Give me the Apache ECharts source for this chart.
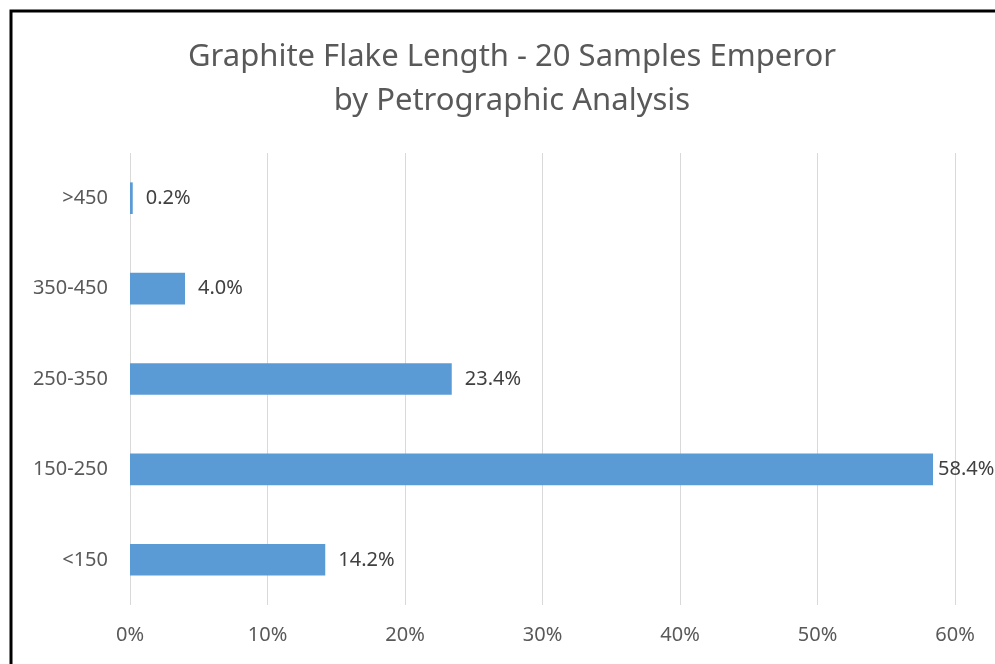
<!DOCTYPE html>
<html>
<head>
<meta charset="utf-8">
<script src="https://cdn.jsdelivr.net/npm/echarts@6/dist/echarts.min.js"></script>
<style>
html,body{margin:0;padding:0;background:#fff;}
#c{width:995px;height:664px;}
</style>
</head>
<body>
<div id="c"></div>
<script>
const categories = ['<150', '150-250', '250-350', '350-450', '>450'];
const values = [14.2, 58.4, 23.4, 4.0, 0.2];
const xTicks = [0, 10, 20, 30, 40, 50, 60];
const titleLines = ['Graphite Flake Length - 20 Samples Emperor', 'by Petrographic Analysis'];

const chart = echarts.init(document.getElementById('c'), null, {renderer: 'canvas'});
const font = '"Noto Sans", "Open Sans", sans-serif';
chart.setOption({
  animation: false,
  graphic: [{
    type: 'rect', left: 8.5, top: 8.5,
    shape: {x: 0, y: 0, width: 1000, height: 700},
    style: {fill: 'none', stroke: '#000', lineWidth: 3},
    z: 100
  }],
  title: {
    text: titleLines.join('\n'),
    left: 507, top: 30, textAlign: 'center',
    textStyle: {fontFamily: font, fontSize: 31, fontWeight: 'normal', color: '#595959', lineHeight: 44}
  },
  grid: {left: 130, right: 40, top: 153, bottom: 59, containLabel: false},
  xAxis: {
    type: 'value', min: xTicks[0], max: xTicks[xTicks.length - 1], interval: 10,
    axisLine: {show: false}, axisTick: {show: false},
    splitLine: {lineStyle: {color: '#d9d9d9', width: 1}},
    axisLabel: {formatter: '{value}%', fontFamily: font, fontSize: 20, color: '#595959', margin: 20}
  },
  yAxis: {
    type: 'category', data: categories,
    axisLine: {show: false}, axisTick: {show: false},
    axisLabel: {fontFamily: font, fontSize: 20, color: '#595959', margin: 22}
  },
  series: [{
    type: 'bar', barWidth: '35%',
    data: values.map(v => ({value: v, label: v > 50 ? {distance: 5} : {}})),
    itemStyle: {color: '#5b9bd5'},
    label: {
      show: true, position: 'right', distance: 13,
      formatter: p => p.value.toFixed(1) + '%',
      fontFamily: font, fontSize: 20, color: '#404040'
    }
  }]
});
</script>
</body>
</html>
